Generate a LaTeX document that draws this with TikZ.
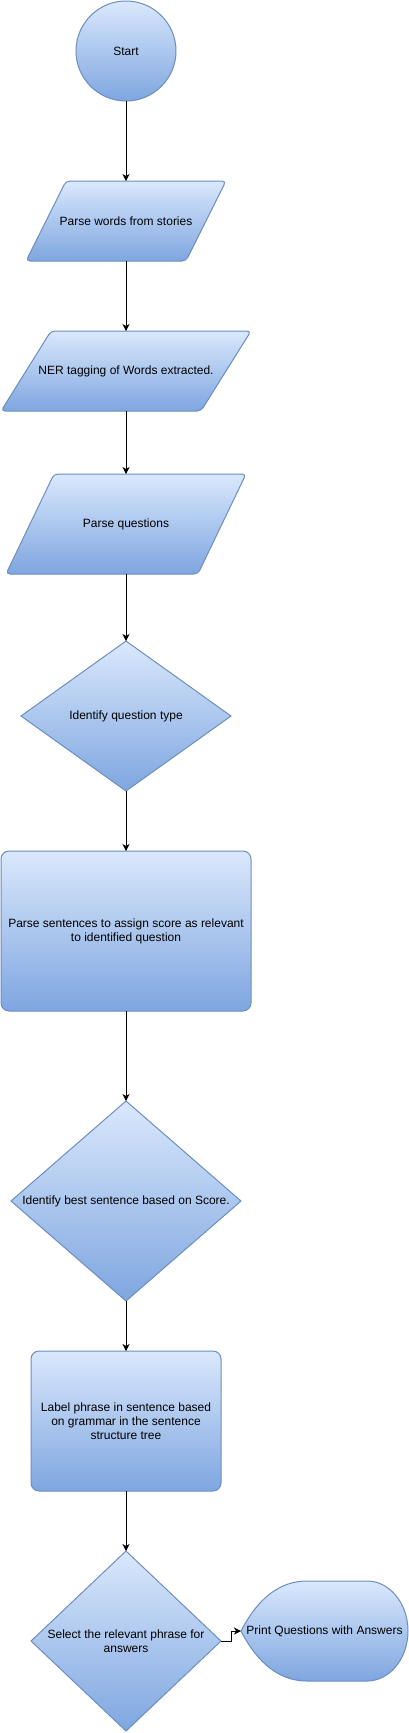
\documentclass[tikz,border=0pt]{standalone}
\usepackage{fontspec}
\setmainfont{Liberation Sans}
\usetikzlibrary{arrows.meta}
\definecolor{fillTop}{RGB}{218,232,252}
\definecolor{fillBot}{RGB}{126,166,224}
\definecolor{edgeC}{RGB}{108,142,191}
\tikzset{
  shp/.style={draw=edgeC, line width=1pt, top color=fillTop, bottom color=fillBot},
  lbl/.style={inner sep=0pt, outer sep=0pt, align=center, font=\fontsize{12}{14}\selectfont, text=black},
  arr/.style={draw=black, line width=0.9pt, -{Stealth[length=7pt,width=7pt,inset=2pt]}},
}
\begin{document}
\begin{tikzpicture}[x=1pt,y=-1pt]
\useasboundingbox (0,0) rectangle (409,1733);

% shapes
\path[shp, rounded corners=4pt] (66,181) -- (226,181) -- (186,261) -- (26,261) -- cycle;
\path[shp, rounded corners=4pt] (51,331) -- (251,331) -- (201,411) -- (1,411) -- cycle;
\path[shp, rounded corners=4pt] (54,474) -- (246,474) -- (198,574) -- (6,574) -- cycle;
\path[shp] (126,641) -- (231,716) -- (126,791) -- (21,716) -- cycle;
\path[shp, rounded corners=8pt] (1,851) rectangle (251,1011);
\path[shp] (126,1101) -- (241,1201) -- (126,1301) -- (11,1201) -- cycle;
\path[shp, rounded corners=8pt] (31,1351) rectangle (221,1491);
\path[shp] (126,1551) -- (221,1641) -- (126,1731) -- (31,1641) -- cycle;
\path[shp] (241,1631) .. controls (258,1598) and (280,1581) .. (307,1581) -- (367,1581)
  arc[start angle=90, end angle=-90, x radius=41pt, y radius=50pt]
  -- (307,1681) .. controls (280,1681) and (258,1664) .. (241,1631) -- cycle;

% nodes
\node[shp, circle, minimum size=100pt, lbl] (start) at (126,51) {Start};
\node[lbl, minimum width=200pt, minimum height=80pt] (p1) at (126,221) {Parse words from stories};
\node[lbl, minimum width=250pt, minimum height=80pt] (p2) at (126,371) {NER tagging of Words extracted.};
\node[lbl, minimum width=240pt, minimum height=100pt] (p3) at (126,524) {Parse questions};
\node[lbl, minimum width=210pt, minimum height=150pt] (d1) at (126,716) {Identify question type};
\node[lbl, minimum width=250pt, minimum height=160pt] (r1) at (126,931) {Parse sentences to assign score as relevant\\to identified question};
\node[lbl, minimum width=230pt, minimum height=200pt] (d2) at (126,1201) {Identify best sentence based on Score.};
\node[lbl, minimum width=190pt, minimum height=140pt] (r2) at (126,1421) {Label phrase in sentence based\\on grammar in the sentence\\structure tree};
\node[lbl, minimum width=190pt, minimum height=180pt] (d3) at (126,1641) {Select the relevant phrase for\\answers};
\node[lbl, minimum width=167pt, minimum height=100pt] (pr) at (324.5,1631) {Print Questions with Answers};

% connectors
\draw[arr] (start.south) -- (p1.north);
\draw[arr] (p1.south) -- (p2.north);
\draw[arr] (p2.south) -- (p3.north);
\draw[arr] (p3.south) -- (d1.north);
\draw[arr] (d1.south) -- (r1.north);
\draw[arr] (r1.south) -- (d2.north);
\draw[arr] (d2.south) -- (r2.north);
\draw[arr] (r2.south) -- (d3.north);
\draw[arr] (d3.east) -- ++(10,0) |- (pr.west);
\end{tikzpicture}
\end{document}
